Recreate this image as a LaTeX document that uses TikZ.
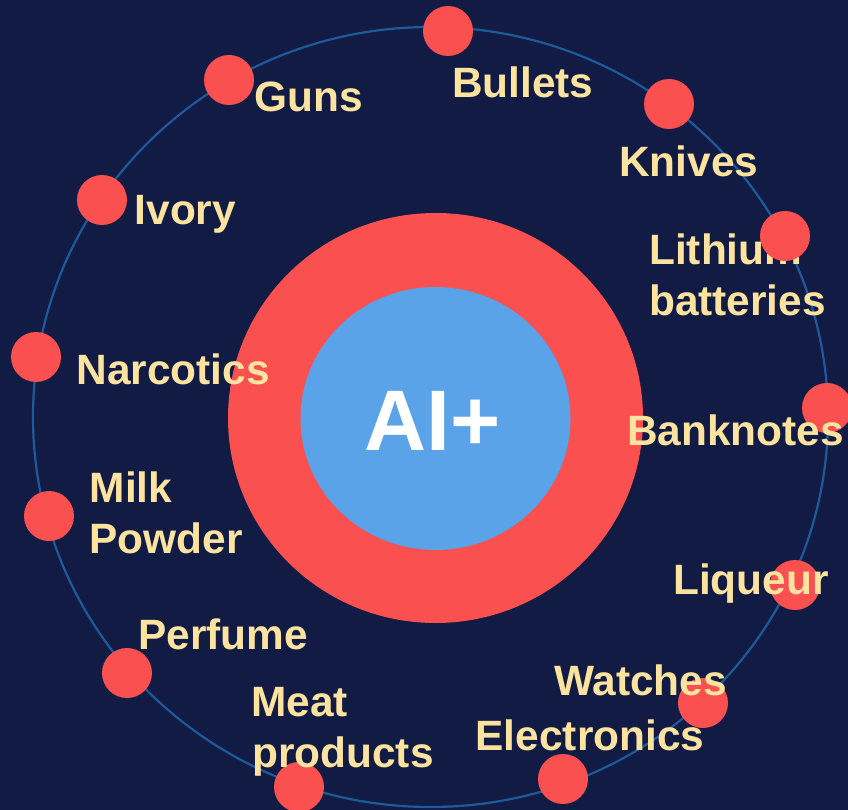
\documentclass[tikz,border=0pt]{standalone}
\usepackage{fontspec}
\setmainfont{Liberation Sans}
\definecolor{bgnavy}{HTML}{111B43}
\definecolor{dotred}{HTML}{FA5050}
\definecolor{coreblue}{HTML}{5AA3E8}
\definecolor{labelcream}{HTML}{FCE3A0}
\definecolor{orbitblue}{HTML}{1C5A9C}
\tikzset{
  dotnode/.style={circle, fill=dotred, draw=none, minimum size=50pt, inner sep=0pt},
  lbl/.style={anchor=base west, inner sep=0pt, text=labelcream,
    font=\fontsize{42.4}{50}\selectfont\bfseries},
}
\begin{document}
\begin{tikzpicture}[x=1pt, y=-1pt]
\useasboundingbox (0,0) rectangle (848,810);
\fill[bgnavy] (0,0) rectangle (848,810);
% orbit
\draw[orbitblue, line width=2.2pt] (430.5,417) ellipse [x radius=397.5, y radius=390];
% dots
\node[dotnode] (dBullets) at (448,31) {};
\node[dotnode] (dGuns) at (229,80) {};
\node[dotnode] (dKnives) at (669,104) {};
\node[dotnode] (dIvory) at (102,200) {};
\node[dotnode] (dNarcotics) at (36,357) {};
\node[dotnode] (dBanknotes) at (827,408) {};
\node[dotnode] (dMilk) at (49,516) {};
\node[dotnode] (dLiqueur) at (795,585) {};
\node[dotnode] (dPerfume) at (127,673) {};
\node[dotnode] (dWatches) at (703,703) {};
\node[dotnode] (dElectronics) at (563,779) {};
\node[dotnode] (dMeat) at (299,787) {};
% core
\fill[dotred] (435.5,418) ellipse [x radius=207.5, y radius=205];
\fill[coreblue] (435.5,418.5) ellipse [x radius=135, y radius=131.5];
\node[anchor=base, inner sep=0pt, text=white, font=\fontsize{86}{100}\selectfont\bfseries] (core) at (433,450) {AI+};
% labels
\node[lbl] (lBullets) at (452,98) {Bullets};
\node[lbl] (lGuns) at (254,111.5) {Guns};
\node[lbl] (lKnives) at (619,176.5) {Knives};
\node[lbl] (lIvory) at (134.5,225) {Ivory};
\node[lbl] (lLithium) at (649,265) {Lithium};
\node[lbl] (lBatteries) at (649,315) {batteries};
\node[lbl] (lNarcotics) at (76.5,384) {Narcotics};
\node[lbl] (lBanknotes) at (627,445) {Banknotes};
\node[lbl] (lMilk) at (89.5,502.5) {Milk};
\node[lbl] (lPowder) at (89.5,553) {Powder};
\node[lbl] (lLiqueur) at (673,594) {Liqueur};
\node[lbl] (lPerfume) at (138,649) {Perfume};
\node[lbl] (lWatches) at (554,695) {Watches};
\node[lbl] (lMeat) at (251,716.5) {Meat};
\node[lbl] (lProducts) at (252,767) {products};
\node[lbl] (lElectronics) at (475.5,750.5) {Electronics};
% this dot lies over its label
\node[dotnode] (dLithium) at (785,236) {};
\end{tikzpicture}
\end{document}
